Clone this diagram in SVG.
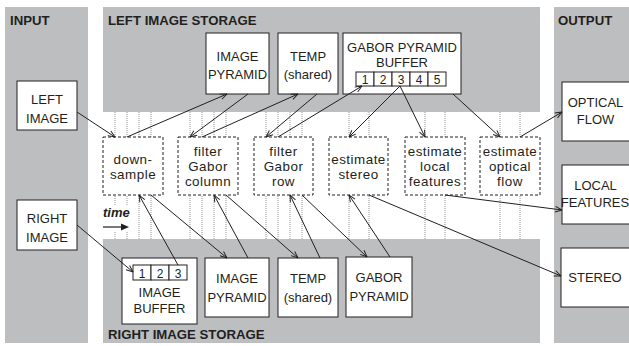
<svg xmlns="http://www.w3.org/2000/svg" width="629" height="346" viewBox="0 0 629 346">
<defs>
<style>
.panel{fill:#bcbec0}
.box{fill:#fff;stroke:#231f20;stroke-width:1}
.proc{fill:#fff;stroke:#231f20;stroke-width:1;stroke-dasharray:3 2}
.cell{fill:#fff;stroke:#231f20;stroke-width:1}
.t{font-family:"Liberation Sans",Arial,sans-serif;font-size:13px;fill:#231f20;text-anchor:middle}
.p{font-family:"Liberation Sans",Arial,sans-serif;font-size:13.4px;letter-spacing:0.5px;fill:#231f20;text-anchor:middle}
.n{font-family:"Liberation Sans",Arial,sans-serif;font-size:12px;fill:#231f20;text-anchor:middle}
.h{font-family:"Liberation Sans",Arial,sans-serif;font-size:13.2px;font-weight:bold;fill:#231f20}
.dot{stroke:#7a7a7a;stroke-width:0.8;stroke-dasharray:1 1;fill:none}
.c{stroke:#231f20;stroke-width:1;fill:none;marker-end:url(#a)}
</style>
<marker id="a" viewBox="0 0 10 10" refX="9.5" refY="5" markerWidth="8" markerHeight="8" markerUnits="userSpaceOnUse" orient="auto">
<path d="M1,1.5 L9.5,5 L1,8.5" fill="none" stroke="#231f20" stroke-width="1.2"/>
</marker>
</defs>
<rect width="629" height="346" fill="#fff"/>
<g id="panels">
<rect class="panel" x="5" y="7" width="83" height="336"/>
<rect class="panel" x="103" y="7" width="437" height="105"/>
<rect class="panel" x="103" y="239" width="437" height="104"/>
<rect class="panel" x="554" y="7" width="75" height="336"/>
<text class="h" x="10" y="24.5">INPUT</text>
<text class="h" x="108" y="24.5">LEFT IMAGE STORAGE</text>
<text class="h" x="558" y="24.5">OUTPUT</text>
<text class="h" x="108" y="339">RIGHT IMAGE STORAGE</text>
</g>
<g id="timelines">
<path class="dot" d="M115,112V239M127,112V239M139,112V239M151,112V239M190,112V239M202,112V239M214,112V239M226,112V239M266,112V239M278,112V239M290,112V239M302,112V239M349,112V239M369,112V239M425,112V239M445,112V239M500,112V239M520,112V239"/>
</g>
<g id="time">
<rect x="101" y="205" width="32" height="27" fill="#fff"/>
<text x="103" y="217" font-family="'Liberation Sans',Arial,sans-serif" font-size="13" font-weight="bold" font-style="italic" fill="#231f20">time</text>
<path d="M103,227H122" stroke="#231f20" stroke-width="1.2"/>
<path d="M129,227L121,223.5L121,230.5Z" fill="#231f20"/>
</g>
<g id="left-image"><rect class="box" x="17" y="81" width="60" height="49"/><text class="t" x="47" y="104">LEFT</text><text class="t" x="47" y="123">IMAGE</text></g>
<g id="right-image"><rect class="box" x="17" y="200" width="60" height="50"/><text class="t" x="47" y="222.5">RIGHT</text><text class="t" x="47" y="241.5">IMAGE</text></g>
<g id="l-image-pyramid"><rect class="box" x="206" y="33" width="63" height="61"/><text class="t" x="237.5" y="61">IMAGE</text><text class="t" x="237.5" y="78.5">PYRAMID</text></g>
<g id="l-temp"><rect class="box" x="278" y="33" width="60" height="61"/><text class="t" x="308" y="61">TEMP</text><text class="t" x="308" y="78.5">(shared)</text></g>
<g id="gabor-buffer"><rect class="box" x="343" y="33" width="118" height="61"/><text class="t" x="402" y="51.7">GABOR PYRAMID</text><text class="t" x="402" y="66.7">BUFFER</text>
<rect class="cell" x="356" y="72" width="18" height="14"/><rect class="cell" x="374" y="72" width="18" height="14"/><rect class="cell" x="392" y="72" width="18" height="14"/><rect class="cell" x="410" y="72" width="18" height="14"/><rect class="cell" x="428" y="72" width="18" height="14"/>
<text class="n" x="365" y="84.3">1</text><text class="n" x="383" y="84.3">2</text><text class="n" x="401" y="84.3">3</text><text class="n" x="419" y="84.3">4</text><text class="n" x="437" y="84.3">5</text></g>
<g id="downsample"><rect class="proc" x="103" y="137" width="60" height="58"/><text class="p" x="133" y="163.5">down-</text><text class="p" x="133" y="178.5">sample</text></g>
<g id="filter-col"><rect class="proc" x="178" y="137" width="60" height="58"/><text class="p" x="208" y="155.5">filter</text><text class="p" x="208" y="170.5">Gabor</text><text class="p" x="208" y="185.5">column</text></g>
<g id="filter-row"><rect class="proc" x="254" y="137" width="59" height="58"/><text class="p" x="283.5" y="155.5">filter</text><text class="p" x="283.5" y="170.5">Gabor</text><text class="p" x="283.5" y="185.5">row</text></g>
<g id="est-stereo"><rect class="proc" x="329" y="137" width="59" height="58"/><text class="p" x="358.5" y="163.5">estimate</text><text class="p" x="358.5" y="178.5">stereo</text></g>
<g id="est-local"><rect class="proc" x="405" y="137" width="60" height="58"/><text class="p" x="435" y="155.5">estimate</text><text class="p" x="435" y="170.5">local</text><text class="p" x="435" y="185.5">features</text></g>
<g id="est-flow"><rect class="proc" x="480" y="137" width="60" height="58"/><text class="p" x="510" y="155.5">estimate</text><text class="p" x="510" y="170.5">optical</text><text class="p" x="510" y="185.5">flow</text></g>
<g id="image-buffer"><rect class="box" x="122" y="258" width="75" height="66"/>
<rect class="cell" x="133" y="265" width="18" height="15"/><rect class="cell" x="151" y="265" width="18" height="15"/><rect class="cell" x="169" y="265" width="18" height="15"/>
<text class="n" x="142" y="278">1</text><text class="n" x="160" y="278">2</text><text class="n" x="178" y="278">3</text>
<text class="t" x="159.5" y="296.7">IMAGE</text><text class="t" x="159.5" y="313.3">BUFFER</text></g>
<g id="r-image-pyramid"><rect class="box" x="205" y="258" width="64" height="59"/><text class="t" x="237" y="283">IMAGE</text><text class="t" x="237" y="301.7">PYRAMID</text></g>
<g id="r-temp"><rect class="box" x="278" y="258" width="60" height="59"/><text class="t" x="308" y="283">TEMP</text><text class="t" x="308" y="301.7">(shared)</text></g>
<g id="r-gabor-pyramid"><rect class="box" x="346" y="257" width="66" height="60"/><text class="t" x="379" y="282">GABOR</text><text class="t" x="379" y="301">PYRAMID</text></g>
<g id="out-flow"><rect class="box" x="562" y="82" width="70" height="59"/><text class="t" x="595.5" y="106.7">OPTICAL</text><text class="t" x="595.5" y="124">FLOW</text></g>
<g id="out-local"><rect class="box" x="562" y="165" width="70" height="59"/><text class="t" x="595.5" y="190">LOCAL</text><text class="t" x="595" y="207" font-size="12.2">FEATURES</text></g>
<g id="out-stereo"><rect class="box" x="561" y="248" width="71" height="59"/><text class="t" x="595" y="282.3">STEREO</text></g>
<g id="connectors">
<path class="c" d="M77,112L115,137"/>
<path class="c" d="M127,137L227,94"/>
<path class="c" d="M248,94L190,137"/>
<path class="c" d="M202,137L298,94"/>
<path class="c" d="M317,94L266,137"/>
<path class="c" d="M278,137L362,86"/>
<path class="c" d="M400,86L349,137"/>
<path class="c" d="M400,86L425,137"/>
<path class="c" d="M453,94L500,137"/>
<path class="c" d="M520,137L562,112"/>
<path class="c" d="M445,195L562,210"/>
<path class="c" d="M369,195L561,276"/>
<path class="c" d="M77,225L133,272"/>
<path class="c" d="M178,265L139,195"/>
<path class="c" d="M151,195L227,258"/>
<path class="c" d="M248,258L214,195"/>
<path class="c" d="M226,195L298,258"/>
<path class="c" d="M320,258L290,195"/>
<path class="c" d="M302,195L367,257"/>
<path class="c" d="M390,257L349,195"/>
</g>
</svg>
